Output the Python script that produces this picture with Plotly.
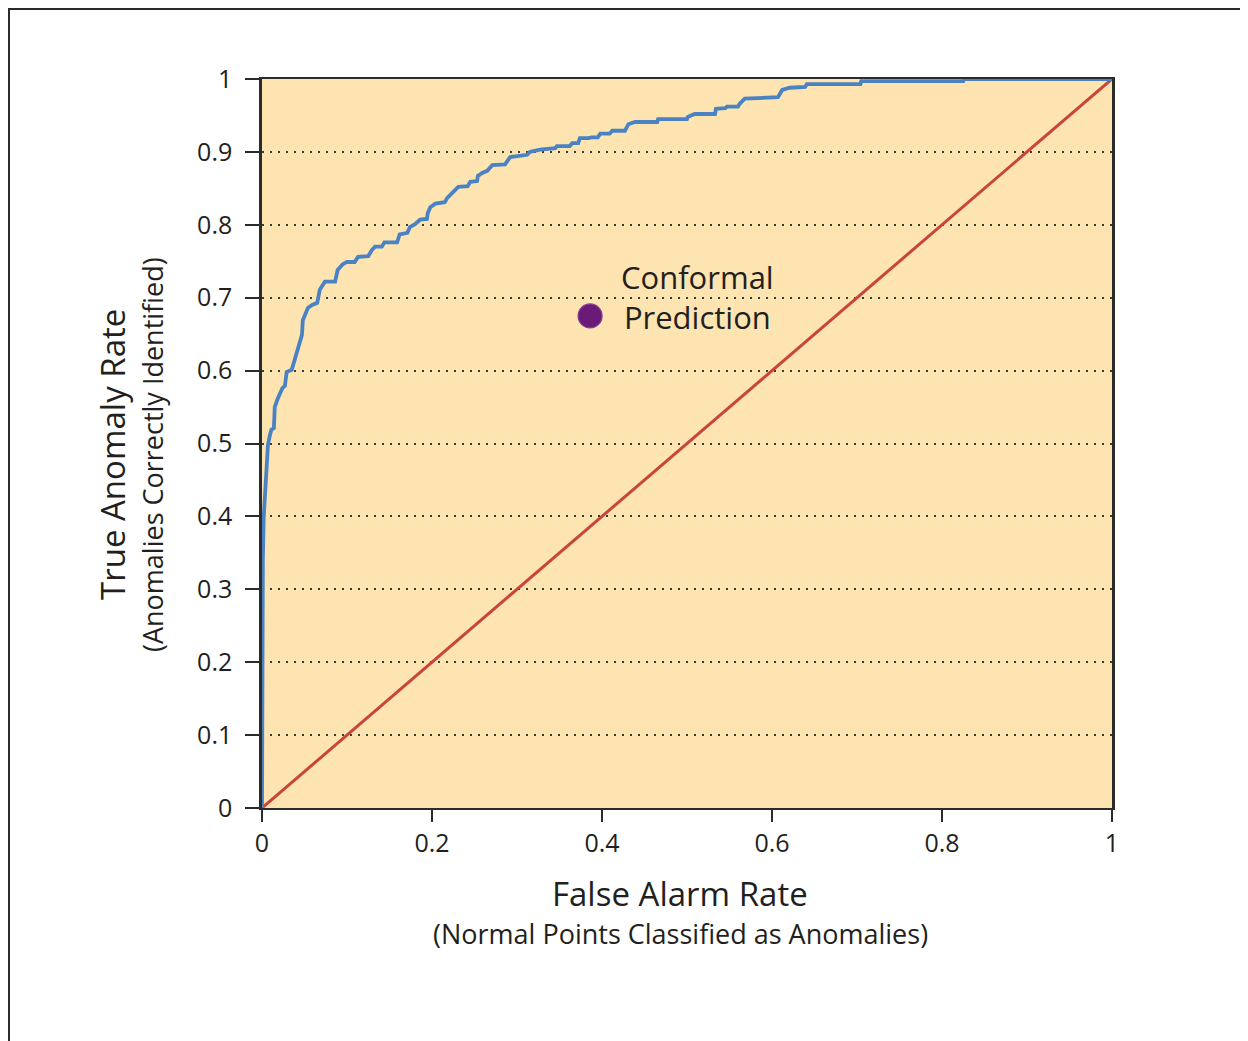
import plotly.graph_objects as go

# ROC curve vertices (false alarm rate, true anomaly rate)
fpr = [0.000, 0.000, 0.001, 0.002, 0.004, 0.005, 0.007, 0.009, 0.011, 0.014, 0.015,
       0.018, 0.021, 0.024, 0.027, 0.029, 0.035, 0.038, 0.040, 0.042, 0.045, 0.047,
       0.048, 0.051, 0.054, 0.059, 0.065, 0.068, 0.071, 0.074, 0.086, 0.089, 0.095,
       0.100, 0.109, 0.113, 0.125, 0.129, 0.133, 0.141, 0.144, 0.159, 0.162, 0.171,
       0.174, 0.180, 0.186, 0.194, 0.195, 0.198, 0.204, 0.215, 0.218, 0.224, 0.227,
       0.231, 0.242, 0.245, 0.253, 0.254, 0.259, 0.265, 0.271, 0.286, 0.292, 0.312,
       0.315, 0.327, 0.345, 0.347, 0.362, 0.365, 0.372, 0.374, 0.384, 0.388, 0.395,
       0.398, 0.409, 0.412, 0.427, 0.431, 0.439, 0.465, 0.466, 0.500, 0.501, 0.509,
       0.533, 0.534, 0.545, 0.547, 0.560, 0.562, 0.568, 0.584, 0.607, 0.612, 0.621,
       0.639, 0.641, 0.704, 0.705, 0.825, 0.826, 1.000]
tpr = [0.000, 0.276, 0.340, 0.399, 0.436, 0.468, 0.498, 0.510, 0.519, 0.521, 0.550,
       0.560, 0.569, 0.576, 0.579, 0.598, 0.601, 0.612, 0.621, 0.628, 0.638, 0.649,
       0.669, 0.679, 0.686, 0.690, 0.693, 0.711, 0.717, 0.722, 0.722, 0.738, 0.746,
       0.749, 0.749, 0.756, 0.757, 0.765, 0.770, 0.770, 0.776, 0.776, 0.787, 0.789,
       0.797, 0.801, 0.807, 0.808, 0.816, 0.824, 0.829, 0.831, 0.837, 0.844, 0.849,
       0.852, 0.853, 0.859, 0.860, 0.867, 0.871, 0.874, 0.882, 0.883, 0.893, 0.896,
       0.900, 0.903, 0.905, 0.908, 0.908, 0.912, 0.912, 0.919, 0.919, 0.920, 0.920,
       0.925, 0.925, 0.929, 0.929, 0.938, 0.941, 0.941, 0.945, 0.945, 0.948, 0.952,
       0.952, 0.959, 0.960, 0.962, 0.962, 0.966, 0.973, 0.974, 0.975, 0.985, 0.988,
       0.989, 0.993, 0.993, 0.997, 0.997, 1.000, 1.000]

# Random-guess diagonal
diag_x = [0, 1]
diag_y = [0, 1]

# Conformal prediction operating point
cp_x = [0.386]
cp_y = [0.675]
cp_label = "Conformal<br>Prediction"

tick_vals_x = [0, 0.2, 0.4, 0.6, 0.8, 1]
tick_text_x = ["0", "0.2", "0.4", "0.6", "0.8", "1"]
tick_vals_y = [0, 0.1, 0.2, 0.3, 0.4, 0.5, 0.6, 0.7, 0.8, 0.9, 1]
tick_text_y = ["0", "0.1", "0.2", "0.3", "0.4", "0.5", "0.6", "0.7", "0.8", "0.9", "1"]

FONT = "Open Sans"
TXT = "#231f20"

# page offset (browser body margin) compensation
OFF = 8
FW, FH = 1248 - OFF, 1041 - OFF
L, T, W, H = 262 - OFF, 79 - OFF, 850, 729

fig = go.Figure()
fig.add_trace(go.Scatter(x=diag_x, y=diag_y, mode="lines",
                         line=dict(color="#c8453b", width=3), cliponaxis=False,
                         hoverinfo="skip", showlegend=False))
fig.add_trace(go.Scatter(x=fpr, y=tpr, mode="lines",
                         line=dict(color="#4a82c4", width=3.8), cliponaxis=False,
                         showlegend=False))
fig.add_trace(go.Scatter(x=cp_x, y=cp_y, mode="markers",
                         marker=dict(size=24, color="#6a1b78",
                                     line=dict(color="#8b3f97", width=1.2)),
                         showlegend=False))

fig.add_annotation(x=0.512, y=0.701, text=cp_label, showarrow=False,
                   xanchor="center", yanchor="middle", align="center",
                   font=dict(family=FONT, size=31, color=TXT))

# Axis titles (two-line, different sizes); positions in reference page pixels
def px(x):
    return (x - OFF - L) / W
def py(y):
    return (T + H - (y - OFF)) / H

fig.add_annotation(xref="paper", yref="paper", x=px(113), y=py(455),
                   text="True Anomaly Rate", textangle=-90, showarrow=False,
                   xanchor="center", yanchor="middle",
                   font=dict(family=FONT, size=33, color=TXT))
fig.add_annotation(xref="paper", yref="paper", x=px(153), y=py(455),
                   text="(Anomalies Correctly Identified)", textangle=-90, showarrow=False,
                   xanchor="center", yanchor="middle",
                   font=dict(family=FONT, size=27, color=TXT))
fig.add_annotation(xref="paper", yref="paper", x=px(680), y=py(893),
                   text="False Alarm Rate", showarrow=False,
                   xanchor="center", yanchor="middle",
                   font=dict(family=FONT, size=33, color=TXT))
fig.add_annotation(xref="paper", yref="paper", x=px(680), y=py(933),
                   text="(Normal Points Classified as Anomalies)", showarrow=False,
                   xanchor="center", yanchor="middle",
                   font=dict(family=FONT, size=27, color=TXT))

# Outer frame
fig.add_shape(type="rect", xref="paper", yref="paper",
              x0=px(9), x1=px(1262), y0=py(1060), y1=py(9),
              line=dict(color="#2b2b2b", width=2), layer="below")

fig.update_layout(
    width=FW, height=FH,
    margin=dict(l=L, r=FW - L - W, t=T, b=FH - T - H, pad=0),
    paper_bgcolor="white",
    plot_bgcolor="#fde4b0",
    font=dict(family=FONT, size=25, color=TXT),
    xaxis=dict(range=[0, 1], tickvals=tick_vals_x, ticktext=tick_text_x,
               showgrid=False, zeroline=False,
               showline=True, linecolor="#2b2b2b", linewidth=2, mirror=True,
               ticks="outside", ticklen=12, tickwidth=1.5, tickcolor="#2b2b2b",
               tickfont=dict(family=FONT, size=25, color=TXT),
               layer="below traces", fixedrange=True),
    yaxis=dict(range=[0, 1], tickvals=tick_vals_y, ticktext=tick_text_y,
               showgrid=True, gridcolor="#3a3a3a", gridwidth=1.5, griddash="2px,6px",
               zeroline=False,
               showline=True, linecolor="#2b2b2b", linewidth=2.5, mirror=True,
               ticks="outside", ticklen=14, tickwidth=1.5, tickcolor="#2b2b2b",
               tickfont=dict(family=FONT, size=25, color=TXT),
               ticklabelstandoff=8,
               layer="below traces", fixedrange=True),
)

fig.write_html("out.html")
